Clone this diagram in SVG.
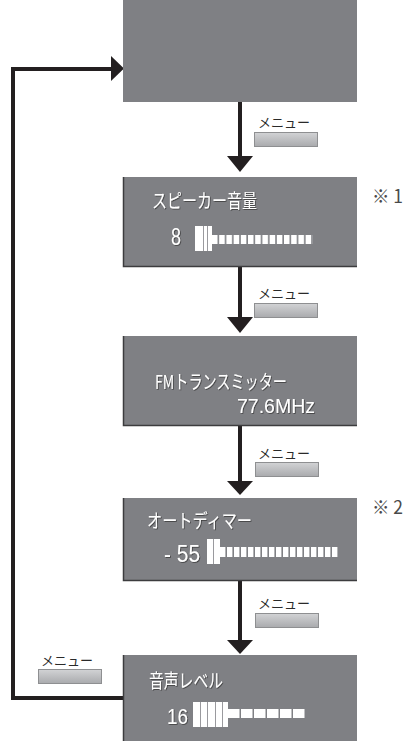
<svg xmlns="http://www.w3.org/2000/svg" width="413" height="741" viewBox="0 0 413 741">
<style>
.box{fill:#7f8084}
.edge{stroke:#3c3c3e;stroke-width:1.5;fill:none}
.t{fill:#ffffff;font-family:"Noto Sans CJK JP","Liberation Sans",sans-serif;font-size:19px;filter:url(#sh)}
.n{fill:#ffffff;font-family:"Liberation Sans","Noto Sans CJK JP",sans-serif;font-size:24px;filter:url(#sh)}
.m{fill:#2a2a2a;font-family:"Noto Sans CJK JP",sans-serif;font-size:13px}
.btn{fill:url(#bg);stroke:#8e8f91;stroke-width:1}
.ln{stroke:#231f20;stroke-width:4;fill:none}
.note{fill:#4a4a4a;font-family:"Noto Sans CJK JP","Liberation Sans",sans-serif;font-size:18px}
.w{fill:#ffffff}
.div{stroke:#9a9a9e;stroke-width:1}
</style>
<defs>
<linearGradient id="bg" x1="0" y1="0" x2="0" y2="1">
<stop offset="0" stop-color="#d2d3d5"/>
<stop offset="1" stop-color="#a9aaad"/>
</linearGradient>
<filter id="sh" x="-10%" y="-20%" width="130%" height="150%">
<feDropShadow dx="0.8" dy="0.8" stdDeviation="0.4" flood-color="#2a2a2a" flood-opacity="0.8"/>
</filter>
<pattern id="p1" patternUnits="userSpaceOnUse" x="212" y="0" width="7.2" height="10"><rect x="0" y="0" width="5.6" height="10" fill="#ffffff"/></pattern>
<pattern id="p2" patternUnits="userSpaceOnUse" x="220" y="0" width="7" height="10"><rect x="0" y="0" width="5.4" height="10" fill="#ffffff"/></pattern>
<pattern id="p3" patternUnits="userSpaceOnUse" x="228" y="0" width="13" height="10"><rect x="0" y="0" width="11.5" height="10" fill="#ffffff"/></pattern>
</defs>

<g id="connectors">
<path class="ln" d="M240 102V158"/>
<polygon points="227,156 253,156 240,172" fill="#231f20"/>
<path class="ln" d="M240 267V318"/>
<polygon points="227,317 253,317 240,333" fill="#231f20"/>
<path class="ln" d="M240 426V482"/>
<polygon points="227,481 253,481 240,495" fill="#231f20"/>
<path class="ln" d="M240 581V641"/>
<polygon points="227,640 253,640 240,654" fill="#231f20"/>
<path class="ln" d="M123 698H13V69H113"/>
<polygon points="111,56 124,68.5 111,81" fill="#231f20"/>
<g id="menu1"><text class="m" x="258" y="127" textLength="52" lengthAdjust="spacingAndGlyphs">メニュー</text><rect class="btn" x="254.5" y="132.5" width="63" height="14"/></g>
<g id="menu2"><text class="m" x="258" y="298" textLength="52" lengthAdjust="spacingAndGlyphs">メニュー</text><rect class="btn" x="254.5" y="303.5" width="63" height="14"/></g>
<g id="menu3"><text class="m" x="258" y="458" textLength="52" lengthAdjust="spacingAndGlyphs">メニュー</text><rect class="btn" x="255.5" y="462.5" width="63" height="14"/></g>
<g id="menu4"><text class="m" x="258" y="608" textLength="52" lengthAdjust="spacingAndGlyphs">メニュー</text><rect class="btn" x="255.5" y="613.5" width="63" height="14"/></g>
<g id="menu5"><text class="m" x="41" y="665" textLength="52" lengthAdjust="spacingAndGlyphs">メニュー</text><rect class="btn" x="38.5" y="669.5" width="63" height="14"/></g>
</g>

<g id="node1">
<rect class="box" x="123" y="0" width="234" height="102"/>
</g>

<g id="node2">
<rect class="box" x="123" y="177" width="234" height="90"/>
<path class="edge" d="M123.5 177V266.5H357"/>
<text class="t" x="152" y="208" textLength="105" lengthAdjust="spacingAndGlyphs">スピーカー音量</text>
<text class="n" x="171" y="245" textLength="10" lengthAdjust="spacingAndGlyphs">8</text>
<rect class="w" x="195" y="226" width="17" height="25"/>
<path class="div" d="M203.5 226V251M207.5 226V251"/>
<rect x="212" y="235" width="101" height="9" fill="url(#p1)"/>
<text class="note" x="372" y="203" textLength="31" lengthAdjust="spacingAndGlyphs">※ 1</text>
</g>

<g id="node3">
<rect class="box" x="123" y="336" width="234" height="90"/>
<path class="edge" d="M123.5 336V425.5H357"/>
<text class="t" x="155" y="389" textLength="132" lengthAdjust="spacingAndGlyphs">FMトランスミッター</text>
<text class="n" x="237" y="413" textLength="78" lengthAdjust="spacingAndGlyphs" style="font-size:21px">77.6MHz</text>
</g>

<g id="node4">
<rect class="box" x="123" y="498" width="234" height="83"/>
<path class="edge" d="M123.5 498V580.5H357"/>
<text class="t" x="147" y="528" textLength="105" lengthAdjust="spacingAndGlyphs">オートディマー</text>
<text class="n" x="164" y="562" textLength="36" lengthAdjust="spacingAndGlyphs">- 55</text>
<rect class="w" x="207" y="539" width="13" height="25"/>
<path class="div" d="M213.5 539V564"/>
<rect x="220" y="547" width="118" height="10" fill="url(#p2)"/>
<text class="note" x="372" y="514" textLength="31" lengthAdjust="spacingAndGlyphs">※ 2</text>
</g>

<g id="node5">
<rect class="box" x="123" y="655" width="234" height="86"/>
<path class="edge" d="M123.5 655V741"/>
<text class="t" x="149" y="688" textLength="74" lengthAdjust="spacingAndGlyphs">音声レベル</text>
<text class="n" x="167" y="724" textLength="21" lengthAdjust="spacingAndGlyphs" style="font-size:22px">16</text>
<rect class="w" x="193" y="702" width="35" height="25"/>
<path class="div" d="M200.5 702V727M207.5 702V727M215.5 702V727M222.5 702V727"/>
<rect x="228" y="709" width="78" height="9" fill="url(#p3)"/>
</g>
</svg>
